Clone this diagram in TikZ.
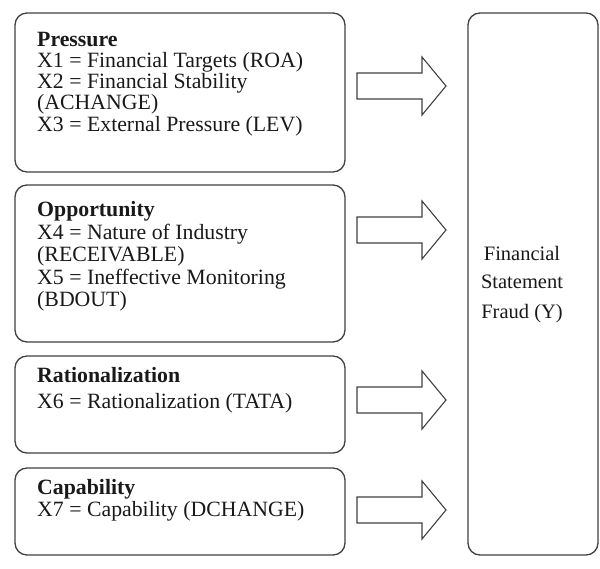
\documentclass[tikz,border=0pt]{standalone}
\usepackage{fontspec}
\setmainfont{Liberation Serif}[Ligatures=TeX]
\begin{document}
\begin{tikzpicture}[x=1pt,y=-1pt,
  box/.style={draw=black!75, line width=1.3pt, rounded corners=12pt, inner sep=0pt},
  txt/.style={anchor=base west, inner sep=0pt, font=\fontsize{21.8}{22}\selectfont, text=black!90},
  ftxt/.style={anchor=base, inner sep=0pt, font=\fontsize{20.5}{22}\selectfont, text=black!90},
  blk/.style={draw=black!75, line width=1.1pt, line join=miter}]
\useasboundingbox (0,0) rectangle (600,569);
% boxes
\node[box, minimum width=330pt, minimum height=159pt] (b1) at (180,92.5) {};
\node[box, minimum width=330pt, minimum height=157pt] (b2) at (180,263.5) {};
\node[box, minimum width=330pt, minimum height=97pt] (b3) at (180,404.5) {};
\node[box, minimum width=330pt, minimum height=87pt] (b4) at (180,511.5) {};
\node[box, minimum width=130pt, minimum height=542pt] (y) at (533,284) {};
% texts
\node[txt] (t11) at (37,47) {\textbf{Pressure}};
\node[txt] (t12) at (37,68) {X1 = Financial Targets (ROA)};
\node[txt] (t13) at (37,89) {X2 = Financial Stability};
\node[txt] (t14) at (37,110) {(ACHANGE)};
\node[txt] (t15) at (37,132) {X3 = External Pressure (LEV)};
\node[txt] (t21) at (37,217) {\textbf{Opportunity}};
\node[txt] (t22) at (37,240) {X4 = Nature of Industry};
\node[txt] (t23) at (37,262) {(RECEIVABLE)};
\node[txt] (t24) at (37,285) {X5 = Ineffective Monitoring};
\node[txt] (t25) at (37,307) {(BDOUT)};
\node[txt] (t31) at (37,382) {\textbf{Rationalization}};
\node[txt] (t32) at (37,409) {X6 = Rationalization (TATA)};
\node[txt] (t41) at (37,494) {\textbf{Capability}};
\node[txt] (t42) at (37,516) {X7 = Capability (DCHANGE)};
\node[ftxt] (y1) at (522,261) {Financial};
\node[ftxt] (y2) at (522,289) {Statement};
\node[ftxt] (y3) at (522,319) {Fraud (Y)};
% block arrows
\foreach \c in {86,230,400,510}{
  \draw[blk] (357,\c-13) -- (422,\c-13) -- (422,\c-29) -- (446,\c) -- (422,\c+29) -- (422,\c+13) -- (357,\c+13) -- cycle;
}
\end{tikzpicture}
\end{document}
